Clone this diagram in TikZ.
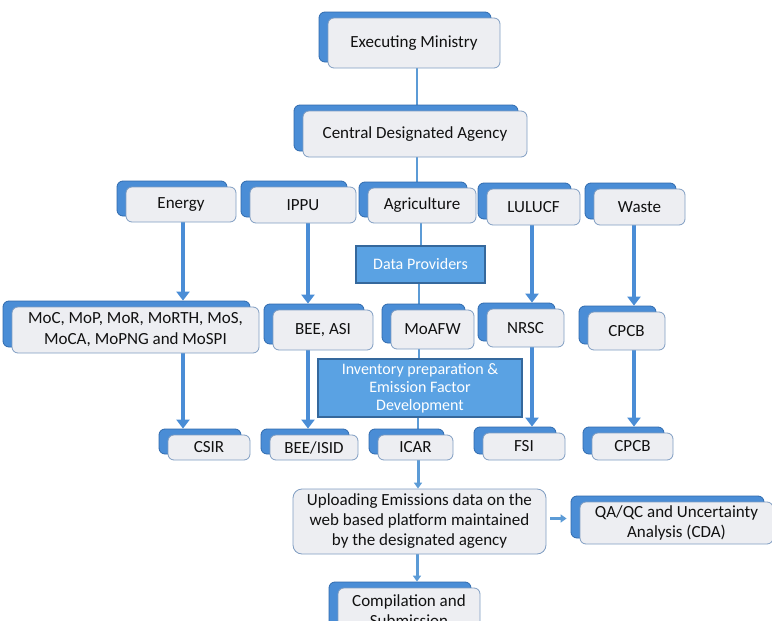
\documentclass[tikz,border=0pt]{standalone}
\usepackage{fontspec}
\setmainfont{Carlito}
\usetikzlibrary{shadows,arrows.meta,backgrounds,calc}
\definecolor{frontfill}{HTML}{EDEEF2}
\definecolor{frontedge}{HTML}{7F9DC2}
\definecolor{shadeblue}{HTML}{4A8DD6}
\definecolor{shadeedge}{HTML}{2F6AAE}
\definecolor{boxblue}{HTML}{5AA2E3}
\definecolor{boxedge}{HTML}{35689C}
\definecolor{lineblue}{HTML}{5C9BD6}
\definecolor{arrowblue}{HTML}{4A8DD6}
\definecolor{txt}{HTML}{111111}
\begin{document}
\begin{tikzpicture}[x=1pt,y=-1pt,
  sbox/.style={draw=frontedge, line width=0.8pt, fill=frontfill, rounded corners=6pt,
    align=center, font=\fontsize{17}{21}\selectfont, text=txt, inner sep=0pt,
    copy shadow={shadow xshift=-9pt, shadow yshift=6pt, fill=shadeblue, draw=shadeedge}},
  bluebox/.style={draw=boxedge, line width=1.2pt, fill=boxblue, text=white, align=center,
    font=\fontsize{16}{18}\selectfont, inner sep=0pt},
  plainbox/.style={draw=frontedge, line width=0.8pt, fill=frontfill, rounded corners=9pt,
    align=center, font=\fontsize{17}{20}\selectfont, text=txt, inner sep=0pt},
  connline/.style={draw=lineblue, line width=1.8pt},
  bigarrow/.style={draw=arrowblue, line width=4.5pt, -{Triangle[width=13pt,length=9pt]}, shorten >=6pt},
  smallarrow/.style={draw=lineblue, line width=3pt, -{Triangle[width=8pt,length=6pt]}}]
\path[use as bounding box, clip] (0,0) rectangle (772,621);

% top
\node[sbox, minimum width=172pt, minimum height=50pt] (exec) at (414,43) {Executing Ministry};
\node[sbox, minimum width=224pt, minimum height=46pt] (cda) at (415,134) {Central Designated Agency};

% sectors
\node[sbox, minimum width=110pt, minimum height=35pt] (energy) at (181,204.5) {Energy};
\node[sbox, minimum width=106pt, minimum height=36pt] (ippu) at (303,205) {IPPU};
\node[sbox, minimum width=108pt, minimum height=35pt] (agri) at (422,205.5) {Agriculture};
\node[sbox, minimum width=93pt, minimum height=36pt] (lulucf) at (533.5,207) {LULUCF};
\node[sbox, minimum width=91pt, minimum height=36pt] (waste) at (639.5,207) {Waste};

\node[bluebox, minimum width=129pt, minimum height=37pt] (data) at (420.5,264.5) {Data Providers};

% providers
\node[sbox, minimum width=247pt, minimum height=46pt] (moc) at (135.5,330) {MoC, MoP, MoR, MoRTH, MoS,\\MoCA, MoPNG and MoSPI};
\node[sbox, minimum width=100pt, minimum height=40pt] (beeasi) at (323,330) {BEE, ASI};
\node[sbox, minimum width=83pt, minimum height=39pt] (moafw) at (432.5,329.5) {MoAFW};
\node[sbox, minimum width=77pt, minimum height=38pt] (nrsc) at (525.5,328) {NRSC};
\node[sbox, minimum width=77pt, minimum height=38pt] (cpcb) at (626.5,331) {CPCB};

\node[bluebox, minimum width=204pt, minimum height=58pt] (inv) at (420,388) {Inventory preparation \&\\Emission Factor\\Development};

% inventory agencies
\node[sbox, minimum width=82pt, minimum height=25pt] (csir) at (209,447.5) {CSIR};
\node[sbox, minimum width=88pt, minimum height=25pt] (beeisid) at (314,447.5) {BEE/ISID};
\node[sbox, minimum width=75pt, minimum height=25pt] (icar) at (415.5,447.5) {ICAR};
\node[sbox, minimum width=82pt, minimum height=27pt] (fsi) at (524,446.5) {FSI};
\node[sbox, minimum width=81pt, minimum height=27pt] (cpcbb) at (632.5,446.5) {CPCB};

% bottom
\node[plainbox, minimum width=253pt, minimum height=65pt] (upload) at (419.5,521.5) {Uploading Emissions data on the\\web based platform maintained\\by the designated agency};
\node[sbox, minimum width=193pt, minimum height=42pt, font=\fontsize{17}{20}\selectfont] (qaqc) at (676.5,523) {QA/QC and Uncertainty\\Analysis (CDA)};
\node[sbox, minimum width=142pt, minimum height=46pt, font=\fontsize{17}{20}\selectfont] (comp) at (409,611) {Compilation and\\Submission};

\begin{scope}[on background layer]
  % thin connectors
  \draw[connline] ([xshift=3pt]exec.south) -- ([xshift=3pt]exec.south |- cda.north);
  \draw[connline] ([xshift=2pt]cda.south) -- ([xshift=2pt]cda.south |- agri.north);
  \draw[connline] ([xshift=-1pt]agri.south) -- ([xshift=-1pt]agri.south |- data.north);
  \draw[connline] ([xshift=-1.5pt]data.south) -- ([xshift=-1.5pt]data.south |- moafw.north);
  \draw[connline] ([xshift=-1.5pt]data.south |- moafw.south) -- ([xshift=-1.5pt]data.south |- inv.north);
  \draw[connline] ([xshift=-2pt]inv.south) -- ([xshift=-2pt]inv.south |- icar.north);
  % thick arrows
  \draw[bigarrow] ([xshift=2pt]energy.south) -- ([xshift=2pt]energy.south |- moc.north);
  \draw[bigarrow] ([xshift=2pt]energy.south |- moc.south) -- ([xshift=2pt]energy.south |- csir.north);
  \draw[bigarrow] ([xshift=5pt]ippu.south) -- ([xshift=5pt]ippu.south |- beeasi.north);
  \draw[bigarrow] ([xshift=5pt]ippu.south |- beeasi.south) -- ([xshift=5pt]ippu.south |- beeisid.north);
  \draw[bigarrow] ([xshift=-1.5pt]lulucf.south) -- ([xshift=-1.5pt]lulucf.south |- nrsc.north);
  \draw[bigarrow] ([xshift=-1.5pt]lulucf.south |- nrsc.south) -- ([xshift=-1.5pt]lulucf.south |- fsi.north);
  \draw[bigarrow] ([xshift=-5.5pt]waste.south) -- ([xshift=-5.5pt]waste.south |- cpcb.north);
  \draw[bigarrow] ([xshift=-5.5pt]waste.south |- cpcb.south) -- ([xshift=-5.5pt]waste.south |- cpcbb.north);
  % bottom arrows
  \draw[smallarrow] ([xshift=2.5pt]icar.south) -- ([xshift=2.5pt]icar.south |- upload.north);
  \draw[smallarrow, shorten >=6pt] ([xshift=-2.5pt]upload.south) -- ([xshift=-2.5pt]upload.south |- comp.north);
  \draw[smallarrow] ([xshift=4pt, yshift=3pt]upload.east) -- ([xshift=-13pt, yshift=3pt]qaqc.west |- upload.east);
\end{scope}
\end{tikzpicture}
\end{document}
